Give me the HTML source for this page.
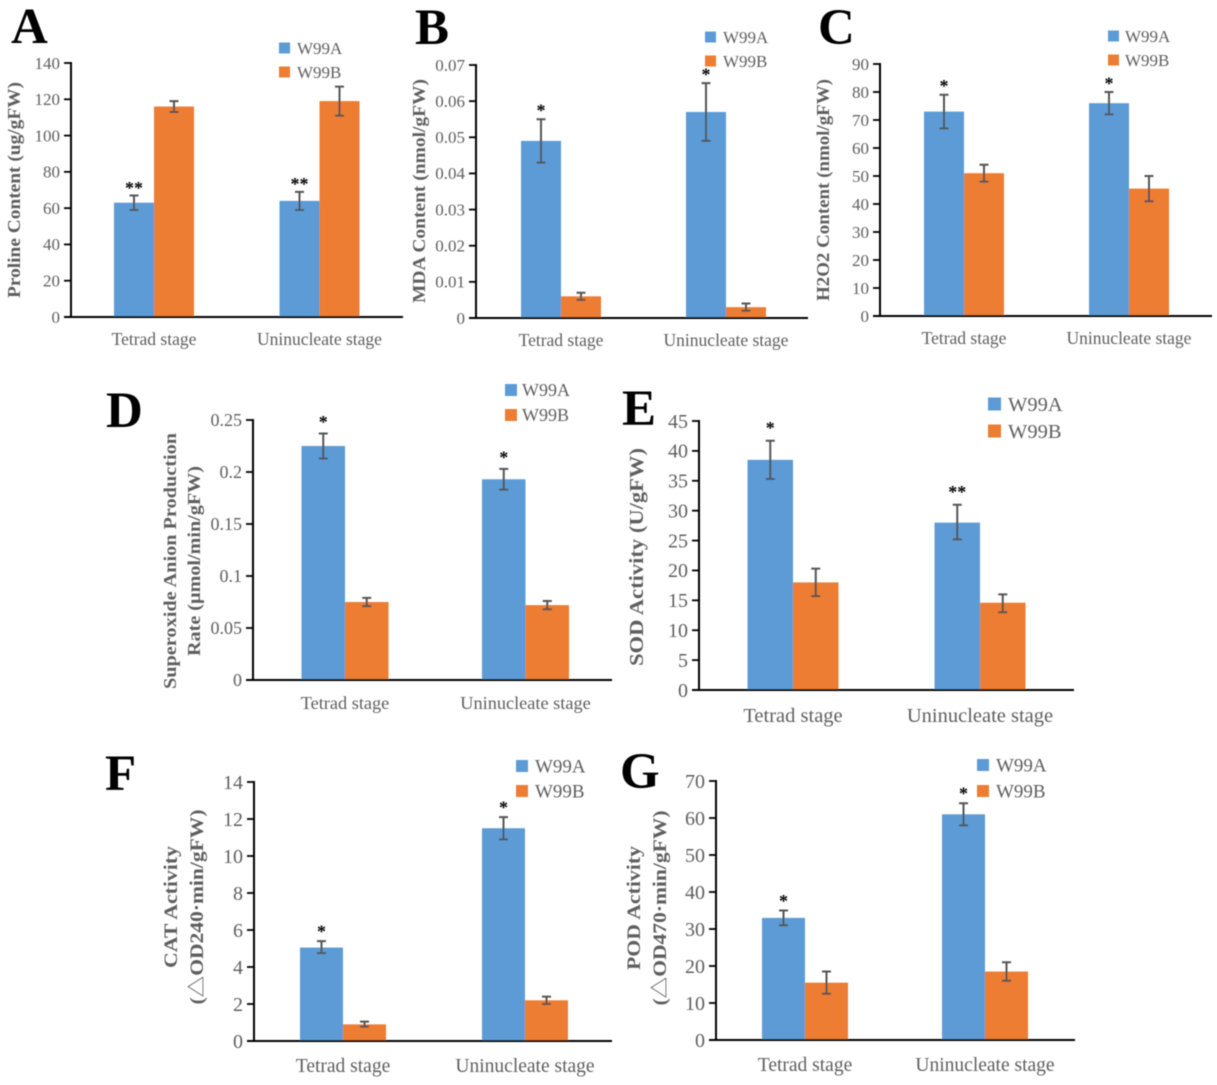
<!DOCTYPE html>
<html>
<head>
<meta charset="utf-8">
<title>Physiological measurements of W99A and W99B</title>
<style>
html,body{margin:0;padding:0;background:#fff;}
svg{display:block;font-family:"Liberation Serif","Noto Serif CJK SC",serif;}
</style>
</head>
<body>
<svg id="figure" width="1217" height="1085" viewBox="0 0 1217 1085" xmlns="http://www.w3.org/2000/svg">
<defs><filter id="soft" x="-5%" y="-5%" width="110%" height="110%"><feGaussianBlur stdDeviation="0.45"/></filter></defs>
<g id="root" filter="url(#soft)"></g>
</svg>
<script>
const categories = ["Tetrad stage", "Uninucleate stage"];
const seriesNames = ["W99A", "W99B"];

const ticksA = ["0", "20", "40", "60", "80", "100", "120", "140"];
const w99aA = [63, 64];
const w99bA = [116, 119];
const w99aHighA = [67, 69];
const w99aLowA = [59, 59];
const w99bHighA = [119, 127];
const w99bLowA = [113, 111];
const starsA = ["**", "**"];

const ticksB = ["0", "0.01", "0.02", "0.03", "0.04", "0.05", "0.06", "0.07"];
const w99aB = [0.049, 0.057];
const w99bB = [0.006, 0.003];
const w99aHighB = [0.055, 0.065];
const w99aLowB = [0.043, 0.049];
const w99bHighB = [0.007, 0.004];
const w99bLowB = [0.005, 0.002];
const starsB = ["*", "*"];

const ticksC = ["0", "10", "20", "30", "40", "50", "60", "70", "80", "90"];
const w99aC = [73, 76];
const w99bC = [51, 45.5];
const w99aHighC = [79, 80];
const w99aLowC = [67, 72];
const w99bHighC = [54, 50];
const w99bLowC = [48, 41];
const starsC = ["*", "*"];

const ticksD = ["0", "0.05", "0.1", "0.15", "0.2", "0.25"];
const w99aD = [0.225, 0.193];
const w99bD = [0.075, 0.072];
const w99aHighD = [0.237, 0.203];
const w99aLowD = [0.213, 0.183];
const w99bHighD = [0.079, 0.076];
const w99bLowD = [0.071, 0.068];
const starsD = ["*", "*"];

const ticksE = ["0", "5", "10", "15", "20", "25", "30", "35", "40", "45"];
const w99aE = [38.5, 28];
const w99bE = [18, 14.6];
const w99aHighE = [41.7, 31];
const w99aLowE = [35.3, 25.2];
const w99bHighE = [20.3, 16];
const w99bLowE = [15.7, 13];
const starsE = ["*", "**"];

const ticksF = ["0", "2", "4", "6", "8", "10", "12", "14"];
const w99aF = [5.05, 11.5];
const w99bF = [0.9, 2.2];
const w99aHighF = [5.4, 12.1];
const w99aLowF = [4.75, 10.9];
const w99bHighF = [1.05, 2.4];
const w99bLowF = [0.78, 2.0];
const starsF = ["*", "*"];

const ticksG = ["0", "10", "20", "30", "40", "50", "60", "70"];
const w99aG = [33, 61];
const w99bG = [15.5, 18.5];
const w99aHighG = [35, 64];
const w99aLowG = [31, 58];
const w99bHighG = [18.5, 21];
const w99bLowG = [12.5, 16];
const starsG = ["*", "*"];

const NS = "http://www.w3.org/2000/svg";
const root = document.getElementById("root");
const BLUE = "#5b9bd5", ORANGE = "#ed7d31", GREY = "#5f5f5f", ERR = "#555555";

function mk(tag, parent, attrs, text) {
  const el = document.createElementNS(NS, tag);
  for (const k in attrs) el.setAttribute(k, attrs[k]);
  if (text !== undefined) el.textContent = text;
  parent.appendChild(el);
  return el;
}

function drawPanel(p) {
  const g = mk("g", root, {});
  
  

  const yMax = Number(p.ticks[p.ticks.length - 1]);
  const yScale = v => p.bottom - (v / yMax) * (p.bottom - p.top);
  const xCenter = i => p.centers[0] + i * (p.centers[1] - p.centers[0]);

  const letter = mk("text", g, {x: p.lx, y: p.ly, "font-size": 51, "font-weight": "bold", fill: "#000"}, p.letter);
  
  

  // bars
  p.series.forEach((s, si) => {
    s.values.forEach((v, i) => {
      const x = si === 0 ? xCenter(i) - p.barW : xCenter(i);
      const y = yScale(v);
      const bar = mk("rect", g, {x: x, y: y, width: p.barW, height: p.bottom - y, fill: si === 0 ? BLUE : ORANGE});
      
      
    });
  });

  // error bars
  p.series.forEach((s, si) => {
    s.values.forEach((v, i) => {
      const cx = si === 0 ? xCenter(i) - p.barW / 2 : xCenter(i) + p.barW / 2;
      const hi = yScale(s.high[i]), lo = yScale(s.low[i]);
      const err = mk("path", g, {d: `M${cx - 4.5} ${hi}H${cx + 4.5}M${cx} ${hi}V${lo}M${cx - 4.5} ${lo}H${cx + 4.5}`, stroke: ERR, "stroke-width": 2, fill: "none"});
      
      
    });
  });

  // significance stars
  p.stars.forEach((s, i) => {
    const cx = xCenter(i) - p.barW / 2;
    const star = mk("text", g, {x: cx, y: yScale(p.series[0].high[i]) - p.starGap + 7.4, "text-anchor": "middle", "font-size": 18, "font-weight": "bold", fill: "#000"}, s);
    
    
  });

  // axes
  const yAxis = mk("line", g, {x1: p.axisX, x2: p.axisX, y1: p.top - 1, y2: p.bottom + 1, stroke: "#000", "stroke-width": 2});
  
  
  const xAxis = mk("line", g, {x1: p.axisX - 7, x2: p.xEnd, y1: p.bottom, y2: p.bottom, stroke: "#000", "stroke-width": 2});
  
  

  p.ticks.forEach(t => {
    const y = yScale(Number(t));
    const tick = mk("line", g, {x1: p.axisX - 7, x2: p.axisX, y1: y, y2: y, stroke: "#000", "stroke-width": 1.8});
    
    
    const label = mk("text", g, {x: p.axisX - 11, y: y + p.tickSize * 0.34, "text-anchor": "end", "font-size": p.tickSize, fill: GREY}, t);
    
    
  });

  categories.forEach((c, i) => {
    const label = mk("text", g, {x: xCenter(i), y: p.catY, "text-anchor": "middle", "font-size": p.catSize, fill: GREY}, c);
    
    
  });

  // y-axis titles
  p.titles.forEach(t => {
    const title = mk("text", g, {transform: `translate(${t.x},${t.y}) rotate(-90)`, "text-anchor": "middle", "font-size": t.size, "font-weight": "bold", fill: GREY, textLength: t.len, lengthAdjust: "spacingAndGlyphs"}, t.text);
    
    
  });

  // legend
  seriesNames.forEach((n, i) => {
    const y = p.legY[i];
    const swatch = mk("rect", g, {x: p.legX, y: y - p.legS / 2, width: p.legS, height: p.legS, fill: i === 0 ? BLUE : ORANGE});
    
    
    const label = mk("text", g, {x: p.legX + p.legS + p.legGap, y: y + p.legSize * 0.34, "font-size": p.legSize, fill: GREY}, n);
    
    
  });
}

const panels = [
  {letter: "A", lx: 11, ly: 43, ticks: ticksA, stars: starsA, starGap: 9,
   series: [{values: w99aA, high: w99aHighA, low: w99aLowA}, {values: w99bA, high: w99bHighA, low: w99bLowA}],
   axisX: 71, top: 63, bottom: 317, xEnd: 403, centers: [154, 319.5], barW: 40, tickSize: 17, catY: 345, catSize: 17.5,
   titles: [{text: "Proline Content (ug/gFW)", x: 20, y: 190, size: 18, len: 216}],
   legX: 279, legY: [48, 72], legS: 11, legGap: 7, legSize: 17},
  {letter: "B", lx: 415, ly: 44, ticks: ticksB, stars: starsB, starGap: 10,
   series: [{values: w99aB, high: w99aHighB, low: w99aLowB}, {values: w99bB, high: w99bHighB, low: w99bLowB}],
   axisX: 476, top: 65, bottom: 318, xEnd: 808, centers: [561, 726], barW: 40, tickSize: 17, catY: 346, catSize: 17.5,
   titles: [{text: "MDA Content (nmol/gFW)", x: 425, y: 191, size: 18, len: 224}],
   legX: 705, legY: [37, 61], legS: 11, legGap: 7, legSize: 17},
  {letter: "C", lx: 818, ly: 44, ticks: ticksC, stars: starsC, starGap: 10,
   series: [{values: w99aC, high: w99aHighC, low: w99aLowC}, {values: w99bC, high: w99bHighC, low: w99bLowC}],
   axisX: 880, top: 64, bottom: 316, xEnd: 1212, centers: [964, 1129], barW: 40, tickSize: 17, catY: 344, catSize: 17.5,
   titles: [{text: "H2O2 Content (nmol/gFW)", x: 829, y: 190, size: 18, len: 222}],
   legX: 1108, legY: [36, 60], legS: 11, legGap: 6, legSize: 17},
  {letter: "D", lx: 106, ly: 427, ticks: ticksD, stars: starsD, starGap: 13,
   series: [{values: w99aD, high: w99aHighD, low: w99aLowD}, {values: w99bD, high: w99bHighD, low: w99bLowD}],
   axisX: 253, top: 420, bottom: 680, xEnd: 612, centers: [345, 525.5], barW: 43.5, tickSize: 18, catY: 709, catSize: 18.3,
   titles: [{text: "Superoxide Anion Production", x: 176, y: 561, size: 18, len: 256},
            {text: "Rate (µmol/min/gFW)", x: 200, y: 561, size: 18, len: 190}],
   legX: 505, legY: [390, 415], legS: 12, legGap: 5, legSize: 18},
  {letter: "E", lx: 622, ly: 425, ticks: ticksE, stars: starsE, starGap: 14,
   series: [{values: w99aE, high: w99aHighE, low: w99aLowE}, {values: w99bE, high: w99bHighE, low: w99bLowE}],
   axisX: 699, top: 421, bottom: 690, xEnd: 1074, centers: [793, 980], barW: 45.5, tickSize: 20, catY: 722, catSize: 20.5,
   titles: [{text: "SOD Activity (U/gFW)", x: 643, y: 557, size: 20, len: 218}],
   legX: 988, legY: [404, 431], legS: 13, legGap: 7, legSize: 20.5},
  {letter: "F", lx: 105, ly: 790, ticks: ticksF, stars: starsF, starGap: 11,
   series: [{values: w99aF, high: w99aHighF, low: w99aLowF}, {values: w99bF, high: w99bHighF, low: w99bLowF}],
   axisX: 254, top: 782, bottom: 1041, xEnd: 612, centers: [343, 525], barW: 43, tickSize: 20, catY: 1072, catSize: 19.5,
   titles: [{text: "CAT Activity", x: 177, y: 907, size: 19, len: 122},
            {text: "(△OD240·min/gFW)", x: 203, y: 907, size: 19, len: 195}],
   legX: 516, legY: [766, 791], legS: 12, legGap: 7, legSize: 19},
  {letter: "G", lx: 620, ly: 788, ticks: ticksG, stars: starsG, starGap: 11,
   series: [{values: w99aG, high: w99aHighG, low: w99aLowG}, {values: w99bG, high: w99bHighG, low: w99bLowG}],
   axisX: 716, top: 781, bottom: 1040, xEnd: 1075, centers: [805, 985], barW: 43, tickSize: 20, catY: 1071, catSize: 19.5,
   titles: [{text: "POD Activity", x: 640, y: 908, size: 19, len: 124},
            {text: "(△OD470·min/gFW)", x: 666, y: 908, size: 19, len: 195}],
   legX: 977, legY: [765, 791], legS: 12, legGap: 7, legSize: 19}
];

panels.forEach(drawPanel);
</script>
</body>
</html>
